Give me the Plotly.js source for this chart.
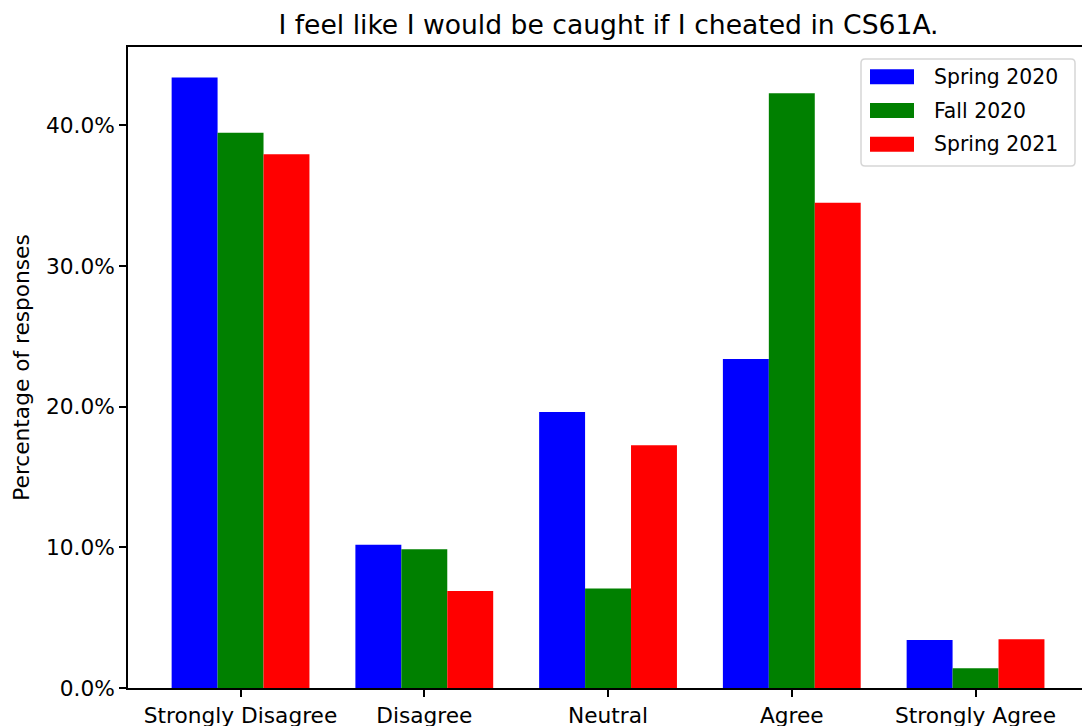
<!DOCTYPE html>
<html>
<head>
<meta charset="utf-8">
<script src="https://cdn.plot.ly/plotly-3.0.1.min.js"></script>
<style>
html, body { margin: 0; padding: 0; background: #fff; overflow: hidden; }
#chart { width: 1082px; height: 726px; }
</style>
</head>
<body>
<div id="chart"></div>
<script>
// ---- data ----
const categories = ["Strongly Disagree", "Disagree", "Neutral", "Agree", "Strongly Agree"];
const seriesNames = ["Spring 2020", "Fall 2020", "Spring 2021"];
const seriesColors = ["#0000ff", "#008000", "#ff0000"];
const spring2020 = [0.434, 0.1018, 0.1962, 0.2339, 0.0342];
const fall2020   = [0.3948, 0.0987, 0.0707, 0.4228, 0.0140];
const spring2021 = [0.3794, 0.0690, 0.1725, 0.3450, 0.0347];
const yTickVals = [0, 0.1, 0.2, 0.3, 0.4];
const chartTitle = "I feel like I would be caught if I cheated in CS61A.";
const yTitle = "Percentage of responses";

const seriesValues = [spring2020, fall2020, spring2021];
const FONT = "DejaVu Sans, sans-serif";

const W = 1082, H = 726;
const M = { l: 128, r: 0, t: 47, b: 38 };
const plotW = W - M.l - M.r, plotH = H - M.t - M.b;
const px2x = p => (p - M.l) / plotW;
const px2y = p => (H - M.b - p) / plotH;

const traces = seriesValues.map((vals, i) => ({
  type: "bar",
  name: seriesNames[i],
  x: categories,
  y: vals,
  marker: { color: seriesColors[i], line: { width: 0 } },
  showlegend: false,
  hoverinfo: "x+y+name"
}));

// custom legend (matplotlib style)
const shapes = [];
const annotations = [];
const lx0 = 861, lx1 = 1075, ly0 = 59, ly1 = 166, rr = 4;
const bx0 = px2x(lx0), bx1 = px2x(lx1), by0 = px2y(ly0), by1 = px2y(ly1);
// rounded rect path in pixels -> use paper coords via path with xref/yref paper not supported for path units; build in paper units
function P(x, y) { return px2x(x) + "," + px2y(y); }
const path = "M" + P(lx0 + rr, ly0) + " L" + P(lx1 - rr, ly0) + " Q" + P(lx1, ly0) + " " + P(lx1, ly0 + rr) +
  " L" + P(lx1, ly1 - rr) + " Q" + P(lx1, ly1) + " " + P(lx1 - rr, ly1) +
  " L" + P(lx0 + rr, ly1) + " Q" + P(lx0, ly1) + " " + P(lx0, ly1 - rr) +
  " L" + P(lx0, ly0 + rr) + " Q" + P(lx0, ly0) + " " + P(lx0 + rr, ly0) + " Z";
shapes.push({ type: "path", xref: "paper", yref: "paper", path: path,
  fillcolor: "rgba(255,255,255,0.8)", line: { color: "rgba(204,204,204,0.8)", width: 1.5 }, layer: "above" });
const rowY = [76.8, 110.5, 144.2];
seriesNames.forEach((name, i) => {
  shapes.push({ type: "rect", xref: "paper", yref: "paper",
    x0: px2x(870), x1: px2x(914), y0: px2y(rowY[i] - 7.5), y1: px2y(rowY[i] + 7.5),
    fillcolor: seriesColors[i], line: { width: 0 }, layer: "above" });
  annotations.push({ xref: "paper", yref: "paper", x: px2x(932), y: px2y(rowY[i]),
    xanchor: "left", yanchor: "middle", text: name, showarrow: false,
    font: { family: FONT, size: 20.4, color: "#000" } });
});

const layout = {
  width: W, height: H,
  margin: M,
  paper_bgcolor: "#fff", plot_bgcolor: "#fff",
  font: { family: FONT, color: "#000" },
  title: { text: chartTitle, font: { family: FONT, size: 26.6, color: "#000" },
    xref: "paper", x: px2x(608.5), xanchor: "center",
    yref: "container", y: 1 - 25 / H, yanchor: "middle" },
  barmode: "group", bargap: 0.25, bargroupgap: 0,
  xaxis: {
    type: "category", range: [-0.6125, -0.6125 + plotW / 183.75],
    showline: true, linecolor: "#000", linewidth: 1.6, mirror: true,
    ticks: "outside", ticklen: 7, tickwidth: 1.6, tickcolor: "#000",
    tickfont: { family: FONT, size: 21.7, color: "#000" },
    showgrid: false, zeroline: false, fixedrange: true
  },
  yaxis: {
    range: [0, 0.4557],
    tickvals: yTickVals, tickformat: ".1%",
    showline: true, linecolor: "#000", linewidth: 1.6,
    ticks: "outside", ticklen: 7, tickwidth: 1.6, tickcolor: "#000",
    tickfont: { family: FONT, size: 21.7, color: "#000" },
    showgrid: false, zeroline: false, fixedrange: true,
    title: { text: yTitle, font: { family: FONT, size: 21.7, color: "#000" }, standoff: 10 }
  },
  shapes: shapes,
  annotations: annotations,
  showlegend: false
};

Plotly.newPlot("chart", traces, layout, { displayModeBar: false, staticPlot: false });
</script>
</body>
</html>
